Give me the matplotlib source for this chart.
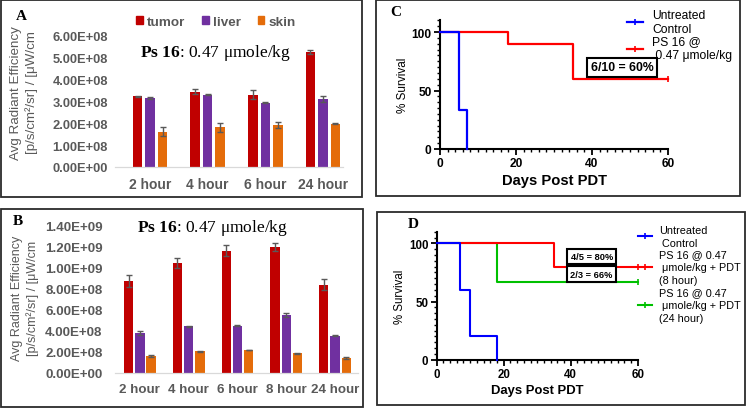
import numpy as np
import matplotlib
matplotlib.use('Agg')
import matplotlib.pyplot as plt
from matplotlib.patches import Rectangle, Patch
from matplotlib.lines import Line2D
from matplotlib.ticker import FuncFormatter, MultipleLocator

plt.rcParams['font.family'] = ['Liberation Sans', 'DejaVu Sans']
plt.rcParams['mathtext.fontset'] = 'custom'
plt.rcParams['mathtext.bf'] = 'Liberation Serif:bold'
plt.rcParams['mathtext.rm'] = 'Liberation Serif'

# ---- data: panel A (radiant efficiency, first time course)
hours_a = ['2 hour', '4 hour', '6 hour', '24 hour']
tumor_a = [3.24e8, 3.45e8, 3.32e8, 5.26e8]
tumor_a_err = [0.02e8, 0.12e8, 0.20e8, 0.08e8]
liver_a = [3.16e8, 3.32e8, 2.95e8, 3.12e8]
liver_a_err = [0.03e8, 0.03e8, 0.04e8, 0.15e8]
skin_a = [1.62e8, 1.82e8, 1.93e8, 1.99e8]
skin_a_err = [0.20e8, 0.20e8, 0.15e8, 0.04e8]

# ---- data: panel B
hours_b = ['2 hour', '4 hour', '6 hour', '8 hour', '24 hour']
tumor_b = [8.72e8, 10.46e8, 11.63e8, 11.95e8, 8.40e8]
tumor_b_err = [0.55e8, 0.50e8, 0.50e8, 0.40e8, 0.50e8]
liver_b = [3.77e8, 4.44e8, 4.47e8, 5.51e8, 3.55e8]
liver_b_err = [0.20e8, 0.05e8, 0.05e8, 0.15e8, 0.08e8]
skin_b = [1.62e8, 2.06e8, 2.19e8, 1.87e8, 1.43e8]
skin_b_err = [0.08e8, 0.05e8, 0.04e8, 0.06e8, 0.08e8]

tissues = ['tumor', 'liver', 'skin']
tissue_colors = ['#c00000', '#7030a0', '#e46c0a']

# ---- data: panel C (survival)
ctrl_c_days = [0, 5, 7]
ctrl_c_surv = [100, 33.3, 0]
ps_c_days = [0, 18, 35, 60]
ps_c_surv = [100, 90, 60, 60]

# ---- data: panel D (survival)
ctrl_d_days = [0, 7, 10, 18]
ctrl_d_surv = [100, 60, 20, 0]
h8_d_days = [0, 35, 60]
h8_d_surv = [100, 80, 80]
h24_d_days = [0, 18, 60]
h24_d_surv = [100, 66.7, 66.7]

W, H = 750, 410
fig = plt.figure(figsize=(W / 100, H / 100), dpi=100)
GRAY = '#595959'
TITLE = r'$\mathbf{Ps}$ $\mathbf{16}$: 0.47 μmole/kg'


def px_axes(x0, y0, x1, y1):
    return fig.add_axes([x0 / W, 1 - y1 / H, (x1 - x0) / W, (y1 - y0) / H])


def fig_text(x, y, s, **kw):
    fig.text(x / W, 1 - y / H, s, **kw)


def box(x0, y0, x1, y1):
    fig.add_artist(Rectangle((x0 / W, 1 - y1 / H), (x1 - x0) / W, (y1 - y0) / H,
                             transform=fig.transFigure, fill=False,
                             ec='#2b2b2b', lw=1.3))


def bar_panel(ax, cats, vals, errs, width, step, ymax, ystep, xlim, ysize, xsize, ypad):
    x = np.arange(len(cats))
    for i, (v, e, c) in enumerate(zip(vals, errs, tissue_colors)):
        ax.bar(x + (i - 1) * step, v, width, color=c, yerr=e, label=tissues[i],
               error_kw=dict(ecolor=GRAY, elinewidth=1, capsize=2.5, capthick=1))
    ax.set_xlim(*xlim)
    ax.set_ylim(0, ymax)
    ax.set_yticks(np.arange(0, ymax + ystep / 2, ystep))
    ax.yaxis.set_major_formatter(FuncFormatter(lambda v, p: f'{v:.2E}'))
    ax.set_xticks(x, cats)
    for s in ['top', 'right', 'left']:
        ax.spines[s].set_visible(False)
    ax.spines['bottom'].set_color('#d9d9d9')
    ax.spines['bottom'].set_linewidth(0.9)
    ax.tick_params(axis='y', length=0, labelsize=ysize, labelcolor=GRAY, pad=ypad)
    ax.tick_params(axis='x', length=0, labelsize=xsize, labelcolor=GRAY, pad=7)
    for t in ax.get_xticklabels() + ax.get_yticklabels():
        t.set_fontweight('bold')


def surv_axes(ax, tick_size):
    ax.set_xlim(0, 60)
    ax.set_ylim(0, 110)
    for s in ['top', 'right']:
        ax.spines[s].set_visible(False)
    for s in ['left', 'bottom']:
        ax.spines[s].set_linewidth(1.5)
    ax.set_xticks([0, 20, 40, 60])
    ax.set_yticks([0, 50, 100])
    ax.xaxis.set_minor_locator(MultipleLocator(2))
    ax.yaxis.set_minor_locator(MultipleLocator(5))
    ax.tick_params(which='major', length=4, width=1.3, labelsize=tick_size, pad=2)
    ax.tick_params(which='minor', length=2.5, width=1)
    for t in ax.get_xticklabels() + ax.get_yticklabels():
        t.set_fontweight('bold')


# ================= panel A
axA = px_axes(115, 37, 343, 168)
bar_panel(axA, hours_a, [tumor_a, liver_a, skin_a], [tumor_a_err, liver_a_err, skin_a_err],
          0.165, 0.217, 6e8, 1e8, (-0.61, 3.35), 9.3, 10, 5)
legA = axA.legend([Patch(color=c) for c in tissue_colors], tissues, ncol=3,
                  loc='center left', bbox_to_anchor=(136 / W, 1 - 23 / H),
                  bbox_transform=fig.transFigure, frameon=False, borderpad=0,
                  borderaxespad=0, handlelength=0.5, handleheight=0.55,
                  handletextpad=0.3, columnspacing=1.25,
                  prop={'size': 9.7, 'weight': 'bold'})
for t in legA.get_texts():
    t.set_color(GRAY)
fig_text(215, 53, TITLE, ha='center', va='center', fontsize=12.5, family='Liberation Serif')
fig_text(24, 93, 'Avg Radiant Efficiency\n[p/s/cm²/sr] / [μW/cm', rotation=90,
         ha='center', va='center', fontsize=9.6, color=GRAY, linespacing=1.35)
fig_text(21, 17, 'A', ha='center', va='center', fontsize=11, fontweight='bold',
         family='Liberation Serif')
box(1, 1, 362, 198)

# ================= panel B
axB = px_axes(115, 226.7, 358, 374)
bar_panel(axB, hours_b, [tumor_b, liver_b, skin_b], [tumor_b_err, liver_b_err, skin_b_err],
          0.19, 0.23, 1.4e9, 2e8, (-0.51, 4.47), 9.6, 9.6, 9)
fig_text(212, 228, TITLE, ha='center', va='center', fontsize=12.5, family='Liberation Serif')
fig_text(25, 298, 'Avg Radiant Efficiency\n[p/s/cm²/sr] / [μW/cm', rotation=90,
         ha='center', va='center', fontsize=9, color=GRAY, linespacing=1.35)
fig_text(18, 222, 'B', ha='center', va='center', fontsize=11, fontweight='bold',
         family='Liberation Serif')
box(1, 210, 363, 408)

# ================= panel C
axC = px_axes(440, 21.3, 668, 150)
surv_axes(axC, 8.6)
axC.step(ps_c_days, ps_c_surv, where='post', color='#ff0000', lw=1.6, clip_on=False,
         marker='|', markevery=[len(ps_c_days) - 1], ms=4, mew=1.2, zorder=3)
axC.step(ctrl_c_days, ctrl_c_surv, where='post', color='#0000ff', lw=1.6, clip_on=False,
         zorder=4)
axC.text(48, 69.7, '6/10 = 60%', ha='center', va='center', fontsize=8.8,
         fontweight='bold', zorder=5,
         bbox=dict(boxstyle='square,pad=0.3', fc='white', ec='black', lw=1.5))
axC.set_xlabel('Days Post PDT', fontsize=10.6, fontweight='bold', labelpad=3)
axC.set_ylabel('% Survival', fontsize=8.5, labelpad=2)
hC = [Line2D([], [], color='#0000ff', lw=1.6, marker='|', ms=4, mew=1.2),
      Line2D([], [], color='#ff0000', lw=1.6, marker='|', ms=4, mew=1.2)]
legC = axC.legend(hC, ['Untreated\nControl', 'PS 16 @\n 0.47 μmole/kg'],
                  loc='upper left', bbox_to_anchor=(627 / W, 1 - 10 / H),
                  bbox_transform=fig.transFigure, frameon=False, borderpad=0,
                  borderaxespad=0, handlelength=1.36, handletextpad=0.7,
                  labelspacing=0.0, numpoints=1, prop={'size': 8.7})
for t in legC.get_texts():
    t.set_linespacing(1.25)
fig_text(396, 13, 'C', ha='center', va='center', fontsize=11, fontweight='bold',
         family='Liberation Serif')
box(376, 1, 740, 197)

# ================= panel D
axD = px_axes(436.7, 232.7, 637.7, 360.7)
surv_axes(axD, 8.3)
axD.step(h24_d_days, h24_d_surv, where='post', color='#00c000', lw=1.5, clip_on=False,
         marker='|', markevery=[len(h24_d_days) - 1], ms=4, mew=1.2, zorder=3)
axD.step(h8_d_days, h8_d_surv, where='post', color='#ff0000', lw=1.5, clip_on=False,
         marker='|', markevery=[len(h8_d_days) - 1], ms=4, mew=1.2, zorder=3.5)
axD.step(ctrl_d_days, ctrl_d_surv, where='post', color='#0000ff', lw=1.5, clip_on=False,
         zorder=4)
axD.text(46.3, 88.7, '4/5 = 80%', ha='center', va='center', fontsize=6.7,
         fontweight='bold', zorder=5,
         bbox=dict(boxstyle='square,pad=0.35', fc='white', ec='black', lw=1.5))
axD.text(46.1, 73.6, '2/3 = 66%', ha='center', va='center', fontsize=6.7,
         fontweight='bold', zorder=5,
         bbox=dict(boxstyle='square,pad=0.35', fc='white', ec='black', lw=1.5))
axD.set_xlabel('Days Post PDT', fontsize=9.4, fontweight='bold', labelpad=3)
axD.set_ylabel('% Survival', fontsize=8.3, labelpad=2)
hD = [Line2D([], [], color='#0000ff', lw=1.5, marker='|', ms=4, mew=1.2),
      Line2D([], [], color='#ff0000', lw=1.5, marker='|', ms=4, mew=1.2),
      Line2D([], [], color='#00c000', lw=1.5, marker='|', ms=4, mew=1.2)]
legD = axD.legend(hD, ['Untreated\n Control',
                       'PS 16 @ 0.47\n μmole/kg + PDT\n(8 hour)',
                       'PS 16 @ 0.47\n μmole/kg + PDT\n(24 hour)'],
                  loc='upper left', bbox_to_anchor=(638 / W, 1 - 225.5 / H),
                  bbox_transform=fig.transFigure, frameon=False, borderpad=0,
                  borderaxespad=0, handlelength=1.25, handletextpad=0.67,
                  labelspacing=0.15, numpoints=1, prop={'size': 7.8})
for t in legD.get_texts():
    t.set_linespacing(1.38)
fig_text(413, 225, 'D', ha='center', va='center', fontsize=11, fontweight='bold',
         family='Liberation Serif')
box(377, 213, 745, 406)

fig.savefig('out.png', dpi=100)
